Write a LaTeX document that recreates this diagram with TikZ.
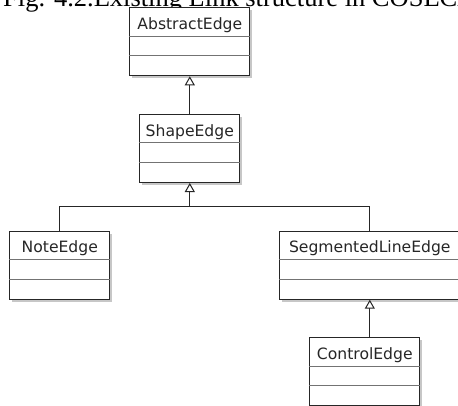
\documentclass[tikz,border=0pt]{standalone}
\usepackage{fontspec}
\setmainfont{Liberation Serif}
\newfontfamily\umlfont{DejaVu Sans}
\usetikzlibrary{arrows.meta}

% One UML class box: name, left x, top y, width, class name
\newcommand\umlclass[5]{%
  \fill[classshadow] (#2+3,#3+3) rectangle ++(#4,68);
  \node[classbox, minimum width=#4pt] (#1) at (#2,#3) {};
  \draw[compartment] ([yshift=-28.7pt]#1.north west) -- ([yshift=-28.7pt]#1.north east);
  \draw[compartment] ([yshift=-48.3pt]#1.north west) -- ([yshift=-48.3pt]#1.north east);
  \node[classname] at ([yshift=-22pt]#1.north) {#5};
}

\begin{document}
\begin{tikzpicture}[x=1pt, y=-1pt,
  classshadow/.style={fill=black!22},
  classbox/.style={draw=black!85, line width=1pt, fill=white,
    minimum height=68pt, inner sep=0pt, anchor=north west},
  compartment/.style={draw=black!55, line width=1pt},
  classname/.style={anchor=base, inner sep=0pt, text=black!85,
    font=\umlfont\fontsize{15.6}{18}\selectfont},
  link/.style={draw=black!85, line width=1pt},
  generalizes/.style={link, -{Triangle[open, width=10pt, length=9pt, fill=white]}},
  figcaption/.style={anchor=base west, inner sep=0pt,
    font=\fontsize{26.5}{30}\selectfont}]

\useasboundingbox (0,0) rectangle (458,405);
\clip (0,0) rectangle (458,405);

% caption above the diagram
\node[figcaption] (title) at (3,6) {Fig. 4.2.Existing Link structure in COSECA};

% class boxes
\umlclass{abstract}{129.3}{7.3}{120}{AbstractEdge}
\umlclass{shape}{139.3}{114}{100}{ShapeEdge}
\umlclass{note}{9.3}{230.7}{100}{NoteEdge}
\umlclass{segmented}{279.3}{230.7}{180}{SegmentedLineEdge}
\umlclass{control}{309.3}{337.3}{110}{ControlEdge}

% generalization links
\draw[generalizes] (shape.north) -- (abstract.south);

\coordinate (busL) at (note.north |- 0,206);
\coordinate (busM) at (shape.south |- 0,206);
\coordinate (busR) at (segmented.north |- 0,206);
\draw[link] (note.north) -- (busL) -- (busR) -- (segmented.north);
\draw[generalizes] (busM) -- (shape.south);

\draw[generalizes] (segmented.south |- control.north) -- (segmented.south);
\end{tikzpicture}
\end{document}
